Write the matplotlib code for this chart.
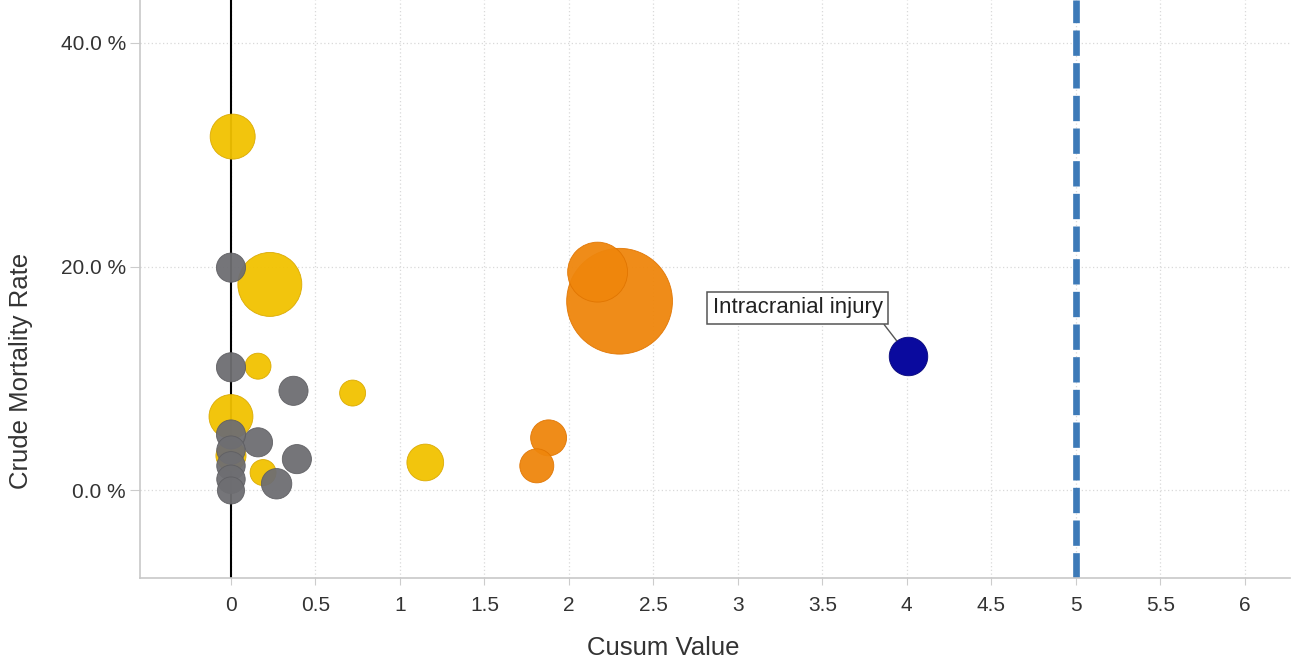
import matplotlib
matplotlib.use("Agg")
import matplotlib.pyplot as plt
import numpy as np

plt.rcParams['font.family'] = ['Liberation Sans', 'DejaVu Sans']

# Data (bubble size values are marker areas)
yellow_x = [0.01, 0.23, 0.00, 0.16, 0.72, 0.00, 1.15, 0.19]
yellow_y = [31.6, 18.4, 6.6, 11.1, 8.7, 3.1, 2.5, 1.6]
yellow_n = [1050, 2120, 1000, 350, 350, 470, 700, 350]

orange_x = [2.30, 2.17, 1.88, 1.81]
orange_y = [16.9, 19.5, 4.7, 2.2]
orange_n = [5800, 1860, 670, 600]

grey_x = [0.00, 0.00, 0.37, 0.16, 0.00, 0.39, 0.27, 0.00, 0.00, 0.00, 0.00]
grey_y = [19.9, 11.0, 8.9, 4.3, 5.0, 2.8, 0.6, 3.6, 2.2, 1.0, 0.0]
grey_n = [440, 440, 440, 440, 440, 440, 480, 420, 420, 420, 380]

blue_x = [4.01]
blue_y = [12.0]
blue_n = [770]
blue_label = "Intracranial injury"

threshold = 5.0
x_ticks = [0, 0.5, 1, 1.5, 2, 2.5, 3, 3.5, 4, 4.5, 5, 5.5, 6]
x_ticklabels = ["0", "0.5", "1", "1.5", "2", "2.5", "3", "3.5", "4", "4.5", "5", "5.5", "6"]
y_ticks = [0, 20, 40]
y_ticklabels = ["0.0 %", "20.0 %", "40.0 %"]

fig = plt.figure(figsize=(13.06, 6.68), dpi=100)
ax = fig.add_axes([0.107, 0.135, 0.881, 0.865])

ax.set_xlim(-0.54, 6.27)
ax.set_ylim(-7.8, 43.8)

for v in x_ticks:
    ax.axvline(v, color="#d9d9d9", lw=0.9, ls=(0, (1, 2)), zorder=0)
for v in y_ticks:
    ax.axhline(v, color="#d9d9d9", lw=0.9, ls=(0, (1, 2)), zorder=0)

ax.axvline(0, color="black", lw=1.5, zorder=1)
ax.axvline(threshold, color="#3d7ab8", lw=4.8, ls=(0, (3.8, 1.1)), zorder=1)

ax.scatter(yellow_x, yellow_y, s=yellow_n, color="#f2c200",
           edgecolor="#d9a800", linewidth=0.6, alpha=0.95, zorder=2)
ax.scatter(orange_x, orange_y, s=orange_n, color="#ef860c",
           edgecolor="#e07400", linewidth=0.6, alpha=0.95, zorder=2)
ax.scatter(grey_x, grey_y, s=grey_n, color="#6e6e72",
           edgecolor="#5e5e62", linewidth=0.6, alpha=0.95, zorder=3)
ax.scatter(blue_x, blue_y, s=blue_n, color="#0a0a9e",
           edgecolor="#06067a", linewidth=0.6, zorder=3)

ax.annotate(blue_label, xy=(blue_x[0], blue_y[0]), xytext=(3.355, 16.3),
            ha="center", va="center", fontsize=16, color="#222222",
            bbox=dict(boxstyle="square,pad=0.25", fc="white", ec="#555555", lw=1.1),
            arrowprops=dict(arrowstyle="-", color="#555555", lw=1,
                            shrinkA=0, shrinkB=14, relpos=(0.98, 0.0)),
            zorder=5)

ax.set_xticks(x_ticks)
ax.set_xticklabels(x_ticklabels)
ax.set_yticks(y_ticks)
ax.set_yticklabels(y_ticklabels)
ax.tick_params(axis="both", labelsize=15, colors="#333333", color="#cccccc")
ax.tick_params(axis="x", length=5, pad=8)
ax.tick_params(axis="y", length=7, pad=3)

for s in ["top", "right"]:
    ax.spines[s].set_visible(False)
for s in ["left", "bottom"]:
    ax.spines[s].set_color("#c8c8c8")
    ax.spines[s].set_linewidth(1.2)

ax.set_xlabel("Cusum Value", fontsize=18.5, color="#333333")
ax.set_ylabel("Crude Mortality Rate", fontsize=18.5, color="#333333")
ax.xaxis.set_label_coords(0.455, -0.1)
ax.yaxis.set_label_coords(-0.0925, 0.358)

fig.savefig("out.png", dpi=100, facecolor="white")
